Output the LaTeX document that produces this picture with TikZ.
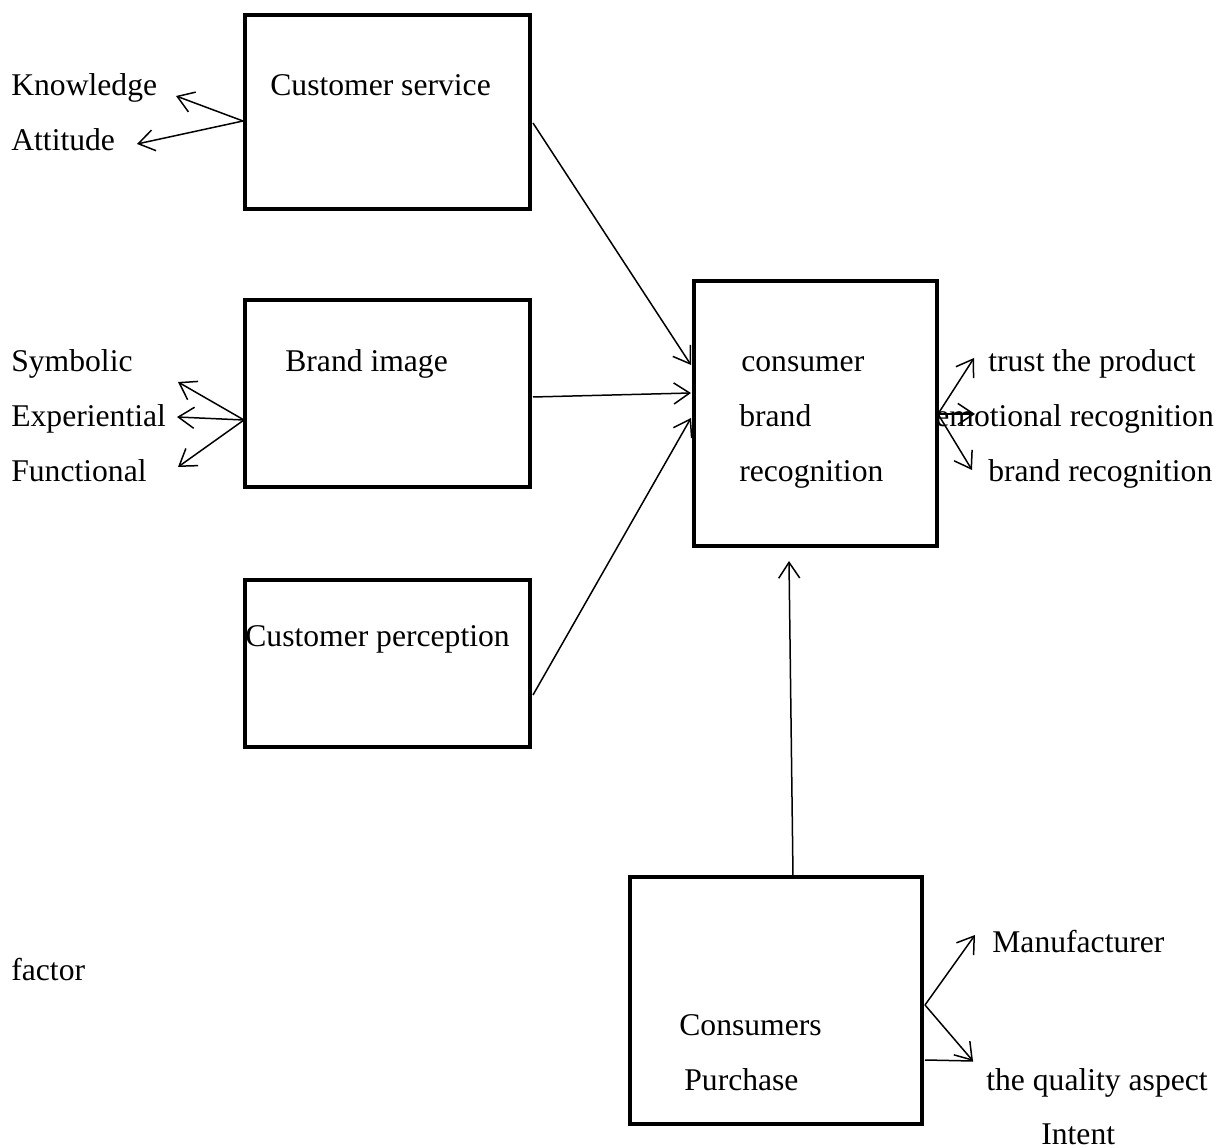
\documentclass[tikz,border=0pt]{standalone}
\usepackage{fontspec}
\setmainfont{Liberation Serif}
\usetikzlibrary{arrows.meta}
\begin{document}
\begin{tikzpicture}[x=0.02cm,y=-0.02cm,
  box/.style={draw, line width=0.08cm, inner sep=0pt},
  lbl/.style={anchor=base west, inner sep=0pt, font=\fontsize{18}{21}\selectfont},
  conn/.style={line width=0.03cm, -{Straight Barb[length=9pt,width=12pt]}},
  plain/.style={line width=0.03cm}]
\useasboundingbox (0,0) rectangle (1225,1148);
% boxes
\node[box, minimum width=5.7cm, minimum height=3.88cm] (cs) at (387.5,112) {};
\node[box, minimum width=5.7cm, minimum height=3.74cm] (bi) at (387.5,393.5) {};
\node[box, minimum width=5.7cm, minimum height=3.34cm] (cp) at (387.5,663.5) {};
\node[box, minimum width=4.86cm, minimum height=5.3cm] (cbr) at (815.5,413.5) {};
\node[box, minimum width=5.84cm, minimum height=4.94cm] (pur) at (776,1000.5) {};
% texts
\node[lbl] (tcs) at (270,96) {Customer service};
\node[lbl] (tbi) at (285,372) {Brand image};
\node[lbl] (tcp) at (245,647) {Customer perception};
\node[lbl] (tc1) at (741,372) {consumer};
\node[lbl] (tc2) at (739,427) {brand};
\node[lbl] (tc3) at (739,482) {recognition};
\node[lbl] (tp1) at (679,1035) {Consumers};
\node[lbl] (tp2) at (684,1090) {Purchase};
\node[lbl] (know) at (11,96) {Knowledge};
\node[lbl] (att) at (11,151) {Attitude};
\node[lbl] (sym) at (11,372) {Symbolic};
\node[lbl] (exp) at (11,427) {Experiential};
\node[lbl] (fun) at (11,482) {Functional};
\node[lbl] (fac) at (11,980) {factor};
\node[lbl] (tru) at (988,372) {trust the product};
\node[lbl] (emo) at (935,427) {emotional recognition};
\node[lbl] (brr) at (988,482) {brand recognition};
\node[lbl] (man) at (992,952) {Manufacturer};
\node[lbl] (qua) at (986,1090) {the quality aspect};
\node[lbl, text depth=0pt] (int) at (1041,1144) {Intent};
% connector points
\coordinate (csL) at (243,121);
\coordinate (knowT) at (176,96);
\coordinate (attT) at (137,144);
\coordinate (biL) at (244,420);
\coordinate (symT) at (178,382);
\coordinate (expT) at (177,417);
\coordinate (funT) at (178,467);
\coordinate (cbrR) at (938,414);
\coordinate (truT) at (974,358);
\coordinate (emoT) at (975,414);
\coordinate (brrT) at (972,470);
\coordinate (csR) at (533,123);
\coordinate (cbrA) at (691,365);
\coordinate (biR) at (533,397);
\coordinate (cbrB) at (691,393);
\coordinate (cpR) at (533,695);
\coordinate (cbrC) at (691,418);
\coordinate (purT) at (793,876);
\coordinate (cbrD) at (789,561);
\coordinate (purR) at (925,1005);
\coordinate (purR2) at (925,1060);
\coordinate (manT) at (975,935);
\coordinate (quaT) at (973,1061);
% connectors
\draw[conn] (csL) -- (knowT);
\draw[conn] (csL) -- (attT);
\draw[conn] (biL) -- (symT);
\draw[conn] (biL) -- (expT);
\draw[conn] (biL) -- (funT);
\draw[conn] (cbrR) -- (truT);
\draw[conn] (cbrR) -- (emoT);
\draw[conn] (cbrR) -- (brrT);
\draw[conn] (csR) -- (cbrA);
\draw[conn] (biR) -- (cbrB);
\draw[conn] (cpR) -- (cbrC);
\draw[conn] (purT) -- (cbrD);
\draw[conn] (purR) -- (manT);
\draw[conn] (purR) -- (quaT);
\draw[plain] (purR2) -- (quaT);
\end{tikzpicture}
\end{document}
